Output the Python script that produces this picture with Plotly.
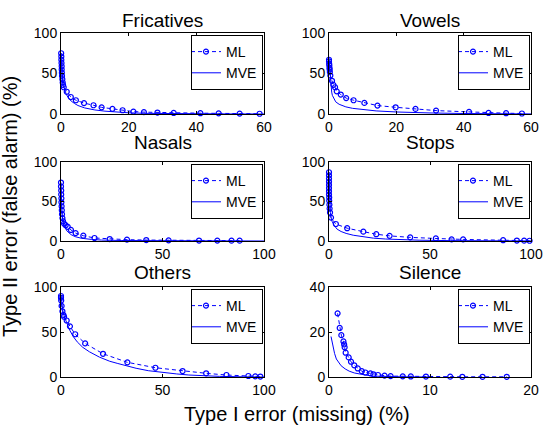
import plotly.graph_objects as go

# ---------------- data ----------------
titles = ["Fricatives", "Vowels", "Nasals", "Stops", "Others", "Silence"]

fric_ml_x = [0.05, 0.1, 0.1, 0.15, 0.2, 0.2, 0.25, 0.3, 0.4, 0.5, 0.6, 0.8, 1.7, 2.9, 4.4, 6.8, 9.6, 12, 15.2, 18.2, 21.4, 24.5, 28.5, 33.3, 41.2, 46.6, 52.8, 58.7]
fric_ml_y = [75, 71, 67, 63, 59, 55, 51, 47, 43, 39, 36, 33, 27.5, 21, 17, 13.5, 10.8, 8.2, 6.4, 4.6, 3, 2.3, 1.8, 1.3, 1, 0.8, 0.5, 0.3]
fric_mve_x = [0, 0.1, 0.2, 0.4, 0.7, 1, 1.5, 2, 3, 4, 5, 7, 10, 13, 16, 20, 25, 30, 40, 50, 60]
fric_mve_y = [75, 60, 50, 42, 35, 30, 25, 21, 16, 13, 10.5, 7.5, 5, 3.5, 2.5, 1.5, 0.8, 0.5, 0.2, 0.1, 0]

vow_ml_x = [0, 0, 0.05, 0.1, 0.15, 0.2, 0.25, 0.4, 0.9, 1.3, 1.8, 2.3, 3.5, 5.1, 7.3, 10.5, 14.4, 19.8, 25.7, 31.8, 41.6, 47.4, 52.6, 57.3]
vow_ml_y = [67, 65, 62, 60, 57, 55, 52, 47.5, 41, 36, 33, 28, 24, 19.6, 17, 13.7, 10.4, 8.3, 6.3, 4.2, 2.6, 1.3, 1.0, 0.6]
vow_mve_x = [0, 0.2, 0.4, 0.6, 0.8, 1, 1.5, 2, 3, 4, 5, 7, 10, 14, 20, 25, 30, 40, 50, 60]
vow_mve_y = [68, 55, 42, 33, 27, 23, 18, 15, 12, 10, 8.8, 7, 5.3, 3.8, 2.5, 1.7, 1.3, 0.6, 0.3, 0.1]

nas_ml_x = [0, 0, 0.1, 0.1, 0.2, 0.2, 0.3, 0.4, 0.5, 0.7, 1.0, 1.5, 2.3, 3.3, 4.9, 7.2, 11, 16.5, 24, 32.5, 42, 53, 68, 77, 84, 88]
nas_ml_y = [74, 69, 64, 59, 54, 49, 44, 39, 34, 29, 25, 22, 20, 18, 14, 10, 6.7, 3.8, 2.5, 1.7, 1.2, 0.8, 0.6, 0.5, 0.4, 0.4]
nas_mve_x = [0, 0.2, 0.5, 1, 2, 3, 5, 7, 10, 15, 20, 30, 50, 100]
nas_mve_y = [72, 50, 35, 25, 17, 12.5, 8, 5.5, 3.5, 2, 1.2, 0.6, 0.2, 0]

stop_ml_x = [0, 0, 0, 0, 0, 0, 0, 0, 0.1, 0.1, 0.2, 0.3, 0.5, 1.0, 3.4, 9, 17, 23.4, 30, 40.2, 52.9, 60.7, 66.4, 86.2, 93, 96.6, 99.3]
stop_ml_y = [87, 83, 79, 75, 71, 67, 63, 59, 55, 51, 46, 41, 36, 29.6, 21.5, 16.2, 11.8, 8.6, 6.5, 4.6, 3.2, 2, 2, 1, 0.6, 0.4, 0.3]
stop_mve_x = [0, 0.2, 0.4, 0.7, 1, 1.5, 2.5, 4, 6, 8.5, 12, 17, 22, 28, 35, 45, 60, 80, 100]
stop_mve_y = [85, 65, 48, 36, 30, 25, 20, 15, 12, 9.6, 7.3, 5.2, 3.6, 2.5, 1.7, 1, 0.5, 0.2, 0.05]

oth_ml_x = [0, 0, 0.1, 0.3, 0.7, 1.2, 1.5, 2.8, 4.4, 7, 11.9, 20.7, 32.7, 46.5, 59.9, 71.5, 81.5, 92.3, 95.7, 98.2]
oth_ml_y = [90, 88, 85, 79, 73, 69, 67, 62.8, 56.3, 47.5, 37.3, 25.8, 16.3, 10.3, 6.6, 4.1, 2.2, 1.1, 0.7, 0.5]
oth_mve_x = [0, 0.5, 1, 2, 3, 4.3, 6, 8, 10.7, 14, 19, 24, 28, 33, 37, 43, 50, 57, 63, 70, 78, 90, 100]
oth_mve_y = [90, 80, 72, 65, 59, 52, 45, 39, 33, 28, 22, 17.5, 15, 12, 9.7, 7, 5, 3.4, 2.2, 1.3, 0.7, 0.2, 0]

sil_ml_x = [0.85, 1.06, 1.22, 1.43, 1.5, 1.55, 1.65, 1.95, 2.18, 2.5, 2.85, 3.25, 3.6, 4.1, 4.4, 4.85, 5.5, 6.1, 7.3, 8.1, 9.6, 12, 13.2, 15.2, 17.6]
sil_ml_y = [28.3, 21.8, 18.6, 15.8, 14.5, 13.2, 10.8, 8.7, 6.8, 5.2, 3.8, 2.6, 2.0, 1.6, 1.2, 0.9, 0.6, 0.4, 0.3, 0.25, 0.2, 0.15, 0.1, 0.1, 0.1]
sil_mve_x = [0.2, 0.3, 0.4, 0.55, 0.73, 1, 1.2, 1.6, 2, 2.5, 3, 3.7, 4.4, 5.5, 7, 10]
sil_mve_y = [18, 15.5, 13, 10.5, 8, 6, 5, 3.6, 2.6, 1.8, 1.3, 0.8, 0.4, 0.2, 0.1, 0]

x_ranges = [[0, 60], [0, 60], [0, 100], [0, 100], [0, 100], [0, 20]]
x_ticks = [[0, 20, 40, 60], [0, 20, 40, 60], [0, 50, 100], [0, 50, 100], [0, 50, 100], [0, 10, 20]]
y_ranges = [[0, 100], [0, 100], [0, 100], [0, 100], [0, 100], [0, 40]]
y_ticks = [[0, 50, 100], [0, 50, 100], [0, 50, 100], [0, 50, 100], [0, 50, 100], [0, 20, 40]]

series = [
    (fric_ml_x, fric_ml_y, fric_mve_x, fric_mve_y),
    (vow_ml_x, vow_ml_y, vow_mve_x, vow_mve_y),
    (nas_ml_x, nas_ml_y, nas_mve_x, nas_mve_y),
    (stop_ml_x, stop_ml_y, stop_mve_x, stop_mve_y),
    (oth_ml_x, oth_ml_y, oth_mve_x, oth_mve_y),
    (sil_ml_x, sil_ml_y, sil_mve_x, sil_mve_y),
]

# ---------------- layout (pixels) ----------------
W, H = 543, 425
col_px = [(61, 264), (329, 531)]
row_px = [(33, 114), (162, 241), (287, 377)]
title_mid_px = [20.5, 143, 272.5]

FONT = "Liberation Sans, Arial, sans-serif"
BLUE = "#0000FF"

fig = go.Figure()
layout = dict(
    width=W, height=H,
    margin=dict(l=0, r=0, t=0, b=0, pad=0, autoexpand=False),
    paper_bgcolor="white", plot_bgcolor="white",
    font=dict(family=FONT, size=14, color="black"),
    showlegend=True,
)
annotations = []

for i in range(6):
    r, c = divmod(i, 2)
    x0, x1 = col_px[c]
    ytop, ybot = row_px[r]
    xd = [x0 / W, x1 / W]
    yd = [1 - ybot / H, 1 - ytop / H]
    n = i + 1
    xa = "x" if n == 1 else f"x{n}"
    ya = "y" if n == 1 else f"y{n}"
    lg = "legend" if n == 1 else f"legend{n}"
    mlx, mly, mvx, mvy = series[i]

    fig.add_trace(go.Scatter(
        x=mlx, y=mly, mode="lines+markers", name="ML",
        line=dict(color=BLUE, width=1, dash="4px,3px"),
        marker=dict(symbol="circle-open", size=5, color=BLUE, line=dict(width=1.2, color=BLUE)),
        xaxis=xa, yaxis=ya, legend=lg, cliponaxis=False,
    ))
    fig.add_trace(go.Scatter(
        x=mvx, y=mvy, mode="lines", name="MVE",
        line=dict(color=BLUE, width=1),
        xaxis=xa, yaxis=ya, legend=lg,
    ))

    axcommon = dict(
        showline=True, linecolor="black", linewidth=1, mirror="ticks",
        ticks="inside", ticklen=3, tickcolor="black", tickwidth=1,
        showgrid=False, zeroline=False, tickfont=dict(size=14, family=FONT),
        automargin=False,
    )
    layout["xaxis" if n == 1 else f"xaxis{n}"] = dict(
        domain=xd, range=x_ranges[i], tickmode="array", tickvals=x_ticks[i],
        anchor=ya, **axcommon)
    layout["yaxis" if n == 1 else f"yaxis{n}"] = dict(
        domain=yd, range=y_ranges[i], tickmode="array", tickvals=y_ticks[i],
        anchor=xa, **axcommon)
    layout[lg] = dict(
        x=(x1 - 1) / W, y=1 - (ytop + 2) / H, xanchor="right", yanchor="top",
        xref="paper", yref="paper",
        bgcolor="white", bordercolor="black", borderwidth=1,
        font=dict(size=14, family=FONT), itemwidth=30, tracegroupgap=0,
        indentation=-6,
    )
    annotations.append(dict(
        text=titles[i], x=(x0 + x1) / 2 / W, y=1 - title_mid_px[r] / H,
        xref="paper", yref="paper", xanchor="center", yanchor="middle",
        showarrow=False, font=dict(size=19, family=FONT),
    ))

annotations.append(dict(
    text="Type I error (missing) (%)", x=297 / W, y=1 - 414 / H,
    xref="paper", yref="paper", xanchor="center", yanchor="middle",
    showarrow=False, font=dict(size=20, family=FONT)))
annotations.append(dict(
    text="Type II error (false alarm) (%)", x=10 / W, y=1 - 207 / H,
    xref="paper", yref="paper", xanchor="center", yanchor="middle",
    textangle=-90, showarrow=False, font=dict(size=20, family=FONT)))

layout["annotations"] = annotations
fig.update_layout(**layout)
fig.write_html("out.html")
